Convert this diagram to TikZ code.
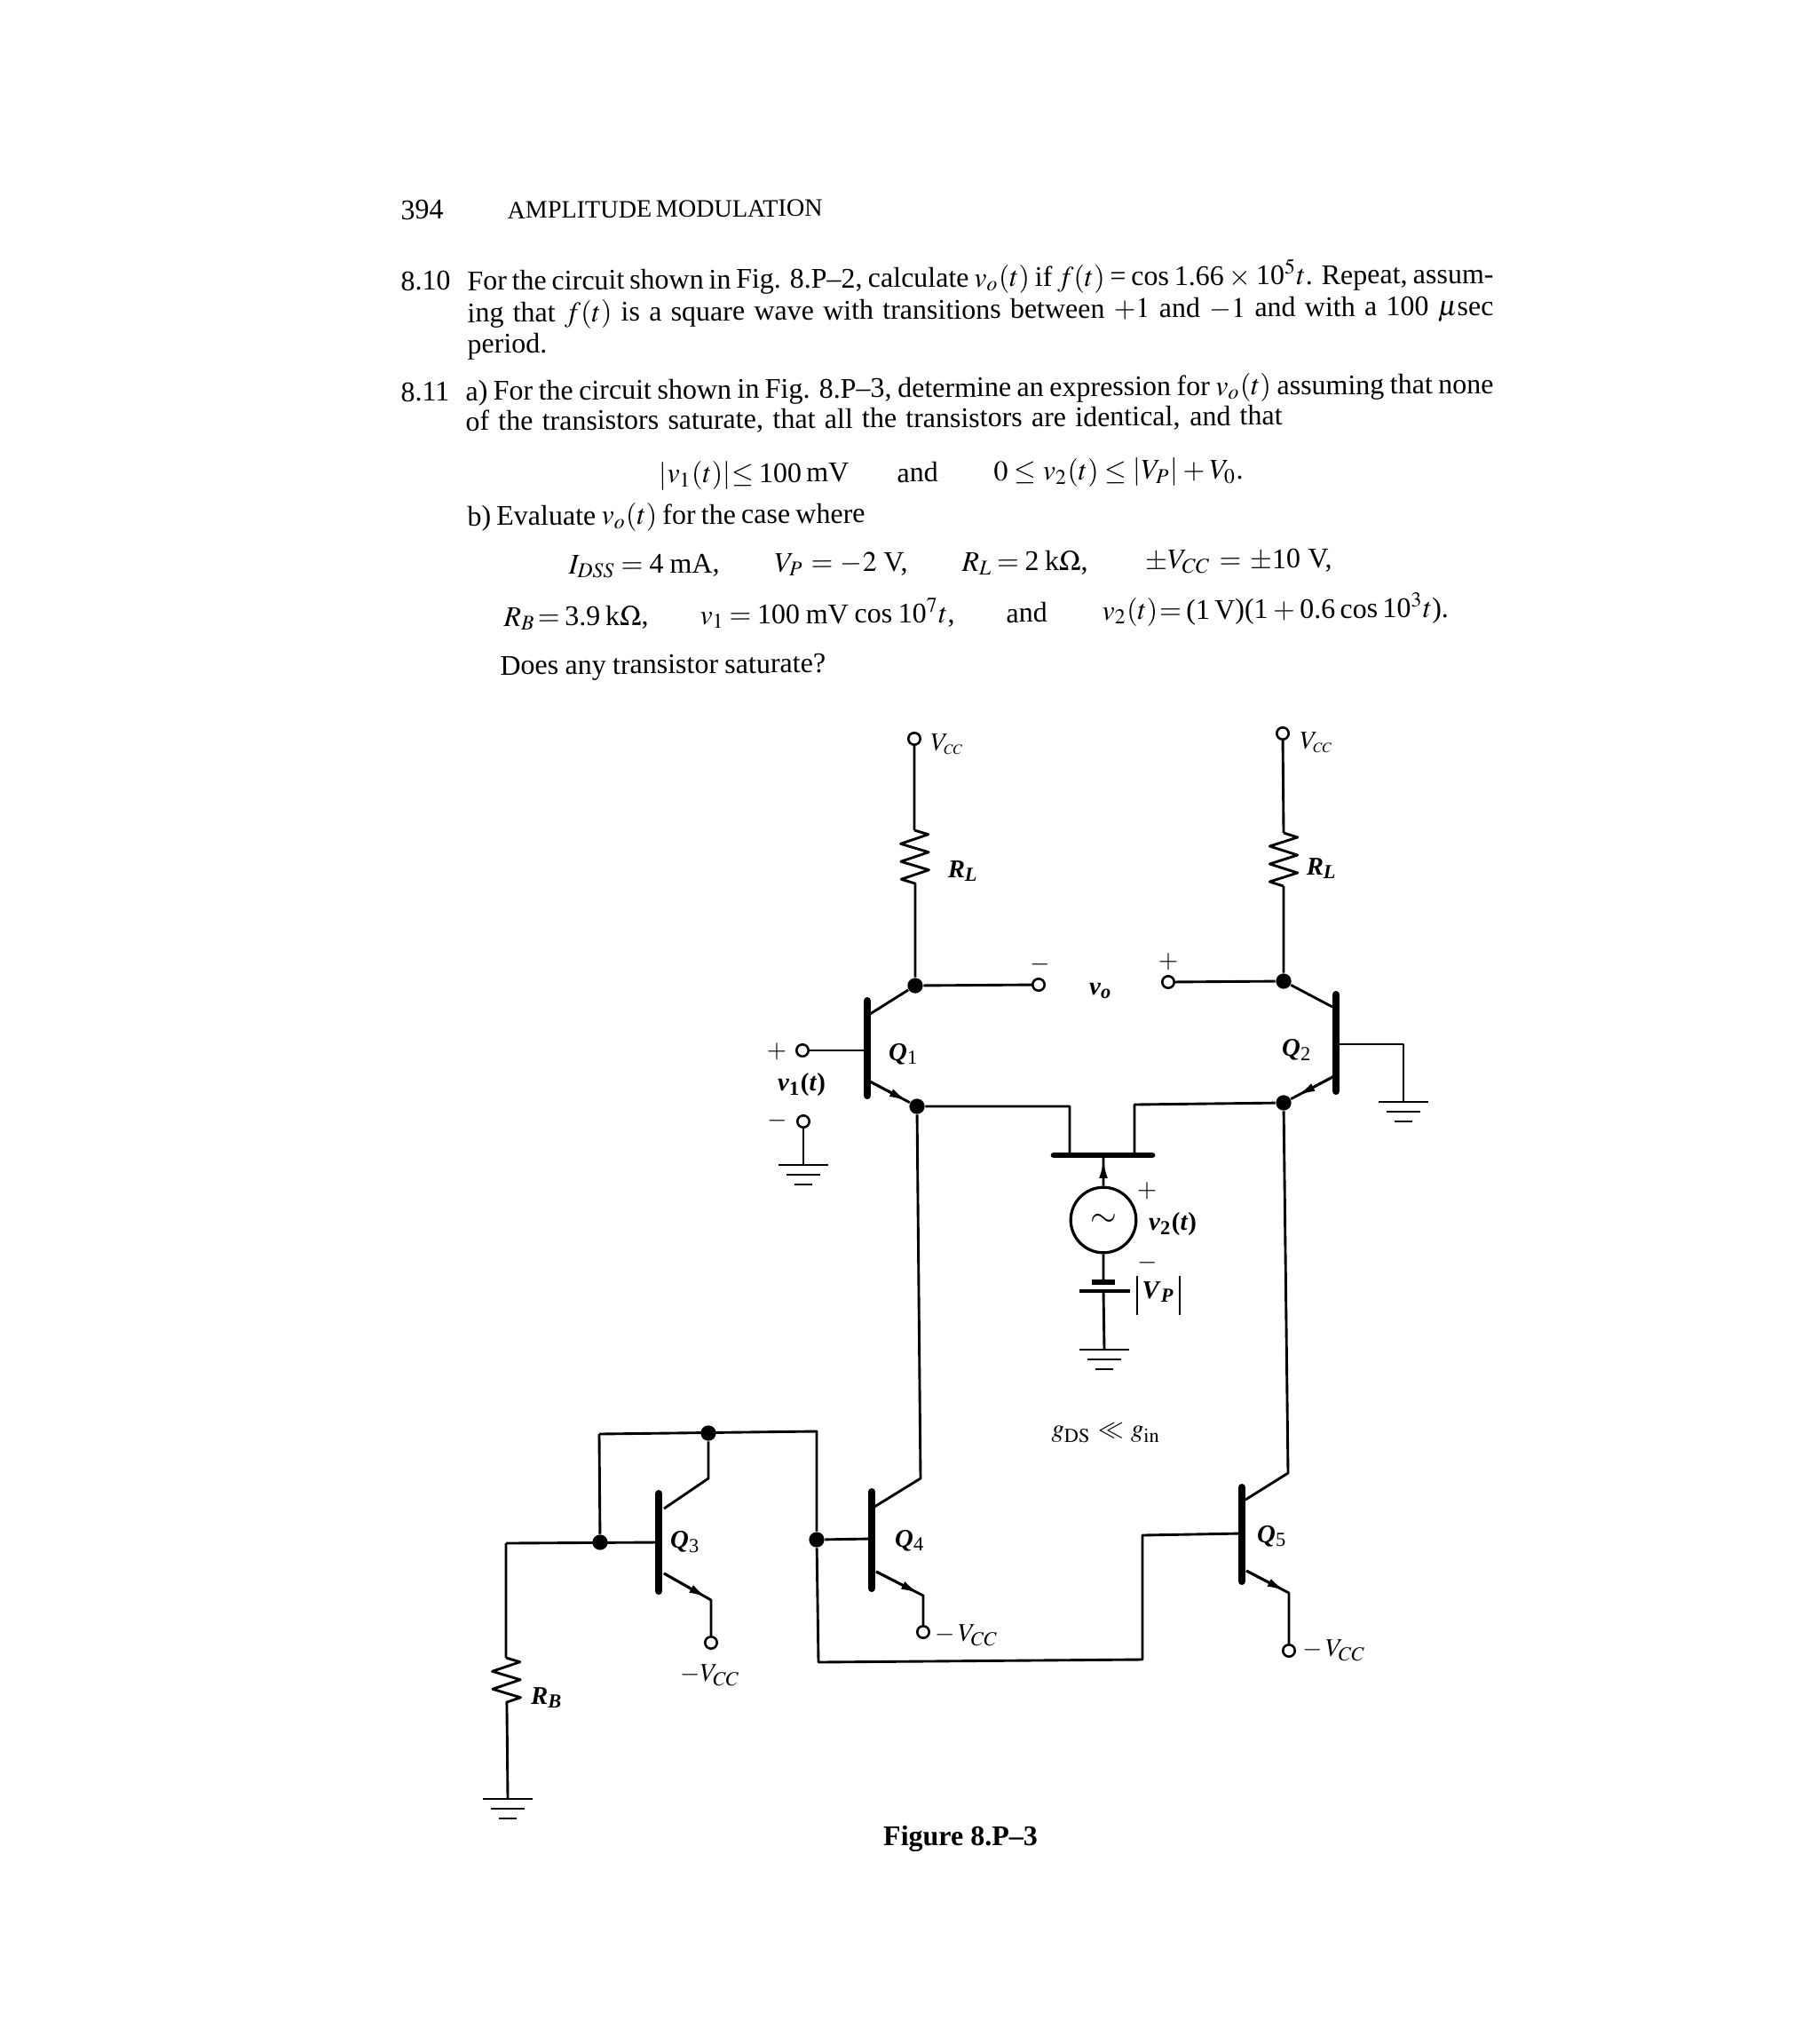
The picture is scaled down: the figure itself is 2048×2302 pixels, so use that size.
\documentclass[tikz,border=0pt]{standalone}
\usepackage{mathptmx}
\usepackage[no-math]{fontspec}
\setmainfont{Liberation Serif}
\usetikzlibrary{arrows.meta,calc,decorations.pathmorphing}
\newlength\pxu
\setlength\pxu{.3125pt}
\newcommand{\bi}[1]{\textbf{\textit{#1}}}
\tikzset{
    lbl/.style={inner sep=0pt,font=\fontsize{9}{11}\selectfont},
    textline/.style={anchor=base west,inner sep=0pt,rotate=.4,font=\fontsize{10}{12}\selectfont},
    wire/.style={line width=.9pt,line join=round},
    bar/.style={line width=2.5pt,line cap=round},
    dot/.style={circle,fill,inner sep=0pt,minimum size=5.4pt},
    term/.style={circle,draw,fill=white,line width=.8pt,inner sep=0pt,minimum size=4.2pt},
    res/.style={wire,decorate,decoration={zigzag,amplitude=4.9pt,segment length=6.25pt}},
    tip/.style={wire,-{Latex[length=6.5pt,width=3pt]}}
}
\begin{document}
\thickmuskip=5mu plus 5mu minus 4mu
\medmuskip=4mu plus 2mu minus 4mu
\begin{tikzpicture}[x=.3125pt,y=-.3125pt]
    \useasboundingbox (0,0) rectangle (2048,2302);
    % page text
    \foreach \x/\y/\w/\t[count=\i] in {
        451/247/50/{394},
        571/246/353/{\fontsize{8.8}{11}\selectfont AMPLITUDE MODULATION},
        451/327/60/{8.10},
        526/327/1156/{For the circuit shown in Fig. 8.P--2, calculate $v_o(t)$ if $f(t)$ = cos 1.66 $\times$ 10$^5t$. Repeat, assum-},
        526/363/1156/{ing that $f(t)$ is a square wave with transitions between $+1$ and $-1$ and with a 100 $\mu$sec},
        526/398/86/{period.},
        451/452/60/{8.11},
        524/451/1158/{a) For the circuit shown in Fig. 8.P--3, determine an expression for $v_o(t)$ assuming that none},
        524/485/920/{of the transistors saturate, that all the transistors are identical, and that},
        742/544/208/{$|v_1(t)|\leq$ 100 mV},
        1010/543/48/{and},
        1119/541/281/{$0\leq v_2(t)\leq|V_P|+V_0$.},
        526/592/448/{b) Evaluate $v_o(t)$ for the case where},
        640/646/170/{$I_{DSS}=$ 4 mA,},
        872/644/150/{$V_P=-2$ V,},
        1083/643/142/{$R_L=$ 2 k$\Omega$,},
        1290/641/210/{$\pm V_{CC}=\pm$10 V,},
        567/705/163/{$R_B=$ 3.9 k$\Omega$,},
        788/703/287/{$v_1=$ 100 mV cos 10$^7t$,},
        1133/701/49/{and},
        1241/698/386/{$v_2(t)=$ (1 V)(1 $+$ 0.6 cos 10$^3t$).},
        563/760/377/{Does any transistor saturate?}
    }
    \node[textline](line\i) at(\x,\y){\makebox[\w\pxu][s]{\t}};
    % bars of the transistors
    \foreach \n/\a/\b/\c/\d in {
        q1/977/1127/977/1234,
        q2/1505/1120/1505/1229,
        q3/742/1682/742/1792,
        q4/982/1680/982/1789,
        q5/1399/1675/1399/1781
    }
    \draw[bar] (\a,\b) coordinate(\n a) -- (\c,\d) coordinate(\n b);
    \draw[line width=2.1pt,line cap=round] (1187,1301) coordinate(jfa) -- (1298,1301) coordinate(jfb);
    % junctions and terminals
    \foreach \n/\a/\b in {j1/1031/1110, j2/1446/1105, j3/1033/1246, j4/1446/1242, j5/798/1614, j6/920/1734, j7/676/1737}
    \node[dot](\n) at(\a,\b){};
    \foreach \n/\a/\b in {t1/1030/832, t2/1445/826, t3/1170/1109, t4/1316/1106, t5/904/1183, t6/905/1263, t7/801/1850, t8/1040/1838, t9/1452/1859}
    \node[term](\n) at(\a,\b){};
    % free points of the wires
    \foreach \n/\a/\b in {
        ra1/1030/935, rb1/1031/996, ra2/1446/938, rb2/1446/998, ra3/570/1867, rb3/571/1924,
        c1/980/1142, e1/980/1218, c2/1501/1134, e2/1503/1212, b1/977/1183, b2/1506/1176, k2/1581/1176,
        g1/905/1312, g2/1581/1241, g3/1244/1520, g4/572/2026,
        d1/1205/1246, d2/1205/1300, d3/1278/1300, d4/1278/1244, gt/1243/1304,
        bt1/1230/1444, bt2/1256/1444, bl1/1216/1454, bl2/1273/1454, bm1/1243/1444, bm2/1243/1454,
        u1/1037/1665, c4/985/1697, b4/982/1733, e4/987/1770, k4/1040/1797,
        u2/1451/1659, c5/1403/1689, b5/1399/1727, e5/1404/1769, k5/1452/1794,
        c3/748/1699, k3a/798/1665, e3/748/1772, k3/801/1802, b3/742/1737,
        w1/675/1615, w2/920/1612, w3/922/1872, w4/1287/1869, w5/1287/1729, w6/570/1738
    }
    \coordinate(\n) at(\a,\b);
    \node[draw,circle,line width=1pt,inner sep=0pt,minimum size=23pt,font=\fontsize{12}{14}\selectfont](src) at(1243,1374){$\sim$};
    % wires of the upper half
    \draw[wire] (t1) -- (ra1) (rb1) -- (j1) -- (t3) (j1) -- (c1);
    \draw[wire] (t2) -- (ra2) (rb2) -- (j2) -- (t4) (j2) -- (c2);
    \draw[res] (ra1) -- (rb1);
    \draw[res] (ra2) -- (rb2);
    \draw[wire] (t5) -- (b1) (t6) -- (g1) (b2) -- (k2) -- (g2);
    \draw[wire] (e1) -- (j3) -- (d1) -- (d2) (d3) -- (d4) -- (j4) -- (e2);
    \draw[tip] (e1) -- ($(e1)!.8!(j3)$);
    \draw[tip] (e2) -- ($(e2)!.74!(j4)$);
    \draw[wire] (gt) -- (src) (src) -- (bm1) (bm2) -- (g3);
    \draw[tip] ($(gt)+(0,24)$) -- ($(gt)+(0,2)$);
    \draw[line width=1.6pt] (bt1) -- (bt2);
    \draw[line width=1.1pt] (bl1) -- (bl2);
    % wires of the lower half
    \draw[wire] (j3) -- (u1) -- (c4) (j4) -- (u2) -- (c5);
    \draw[wire] (c3) -- (k3a) -- (j5) (w1) -- (w2) -- (j6) -- (w3) -- (w4) -- (w5) -- (b5);
    \draw[wire] (w1) -- (j7) (w6) -- (b3) (j6) -- (b4) (w6) -- (ra3) (rb3) -- (g4);
    \draw[res] (ra3) -- (rb3);
    \draw[wire] (e3) -- (k3) -- (t7) (e4) -- (k4) -- (t8) (e5) -- (k5) -- (t9);
    \draw[tip] (e3) -- ($(e3)!.92!(k3)$);
    \draw[tip] (e4) -- ($(e4)!.92!(k4)$);
    \draw[tip] (e5) -- ($(e5)!.92!(k5)$);
    % grounds
    \foreach \g in {g1,g2,g3,g4}
    \draw[wire] (\g) ++(-28,0) -- ++(56,0) (\g) ++(-19,11) -- ++(38,0) (\g) ++(-10,22) -- ++(20,0);
    % labels
    \foreach \x/\y/\t[count=\i] in {
        1067/838/{$V_{\scriptscriptstyle CC}$},
        1483/836/{$V_{\scriptscriptstyle CC}$},
        1085/981/{\bi{R}\textsubscript{\bi{L}}},
        1489/978/{\bi{R}\textsubscript{\bi{L}}},
        1018/1187/{\bi{Q}\textsubscript{1}},
        1461/1182/{\bi{Q}\textsubscript{2}},
        772/1737/{\bi{Q}\textsubscript{3}},
        1025/1735/{\bi{Q}\textsubscript{4}},
        1433/1730/{\bi{Q}\textsubscript{5}},
        616/1912/{\bi{R}\textsubscript{\bi{B}}},
        1240/1116/{\bi{v}\textsubscript{\bi{o}}},
        1172/1086/{$-$},
        1316/1083/{$+$},
        875/1184/{$+$},
        876/1262/{$-$},
        903/1222/{\bi{v}\textsubscript{\textbf{1}}\textbf{(}\bi{t}\textbf{)}},
        1292/1341/{$+$},
        1293/1422/{$-$},
        1321/1379/{\bi{v}\textsubscript{\textbf{2}}\textbf{(}\bi{t}\textbf{)}},
        1305/1459/{\rule[-6pt]{.5pt}{14pt}\,\bi{V}\textsubscript{\bi{P}}\,\rule[-6pt]{.5pt}{14pt}},
        800/1887/{$-V_{CC}$},
        1089/1842/{$-\,V_{CC}$},
        1503/1859/{$-\,V_{CC}$},
        1246/1614/{$g_{\mathrm{DS}}\ll g_{\mathrm{in}}$}
    }
    \node[lbl](lab\i) at(\x,\y){\t};
    \node[inner sep=0pt,font=\fontsize{10}{12}\selectfont\bfseries](cap) at(1082,2071){Figure 8.P--3};
\end{tikzpicture}
\end{document}
